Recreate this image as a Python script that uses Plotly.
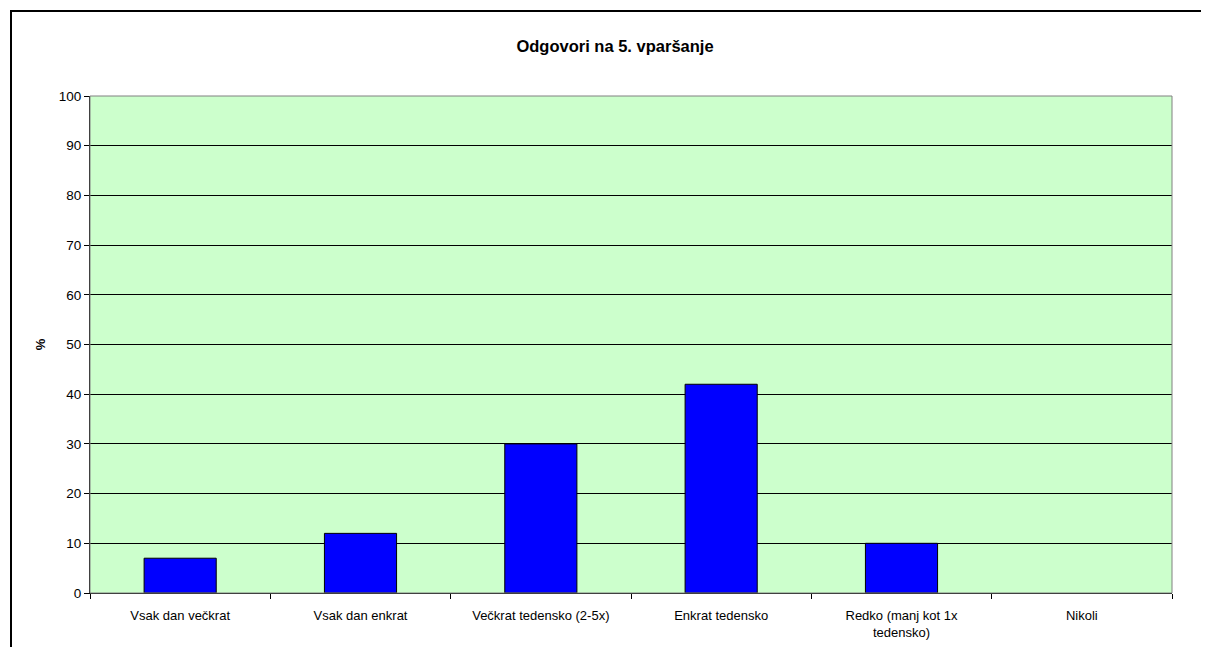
import plotly.graph_objects as go

categories = ["Vsak dan večkrat", "Vsak dan enkrat", "Večkrat tedensko (2-5x)",
              "Enkrat tedensko", "Redko (manj kot 1x<br>tedensko)", "Nikoli"]
values = [7, 12, 30, 42, 10, 0]
y_ticks = list(range(0, 101, 10))

OFF = 8  # default page body margin
W, H = 1209 - OFF, 655 - 2 * OFF
L, R, T, B = 90, 1172, 96, 593          # plot area in window pixels
pw, ph = R - L, B - T

def px(x):
    return (x - L) / pw

def py(y):
    return (B - y) / ph

fig = go.Figure(go.Bar(
    x=categories, y=values,
    marker=dict(color="#0000FF",
                line=dict(color="black", width=[1 if v > 0 else 0 for v in values])),
))

border_path = "M {:.5f},{:.5f} L {:.5f},{:.5f} L {:.5f},{:.5f}".format(
    px(11), py(700), px(11), py(11), px(1260), py(11))

fig.update_layout(
    width=W, height=H,
    margin=dict(l=L - OFF, r=W + OFF - R, t=T - OFF, b=H + OFF - B),
    paper_bgcolor="white", plot_bgcolor="#CCFFCC",
    bargap=0.6, showlegend=False,
    font=dict(family="Liberation Sans, Arial, sans-serif", size=13, color="black"),
    title=dict(text="<b>Odgovori na 5. vparšanje</b>", x=(615 - OFF) / W, xanchor="center",
               y=1 - (46 - OFF) / H, yanchor="middle", font=dict(size=16.5)),
    shapes=[
        dict(type="rect", xref="paper", yref="paper", x0=0, x1=1, y0=0, y1=1,
             line=dict(color="#808080", width=1), layer="above"),
        dict(type="path", xref="paper", yref="paper", path=border_path,
             fillcolor="rgba(0,0,0,0)", line=dict(color="black", width=2)),
    ],
)
fig.update_xaxes(
    showline=True, linecolor="black", linewidth=1, mirror=False,
    ticks="outside", ticklen=5, tickcolor="black", tickson="boundaries",
    showgrid=False, tickfont=dict(size=13), ticklabelstandoff=10, automargin=False,
)
fig.update_yaxes(
    range=[0, 100], tickvals=y_ticks, showline=True, linecolor="black", linewidth=1,
    ticks="outside", ticklen=5, tickcolor="black",
    showgrid=True, gridcolor="black", gridwidth=1, zeroline=False,
    tickfont=dict(size=13.5), automargin=False,
    title=dict(text="<b>%</b>", font=dict(size=13), standoff=10),
)

fig.write_html("out.html")
